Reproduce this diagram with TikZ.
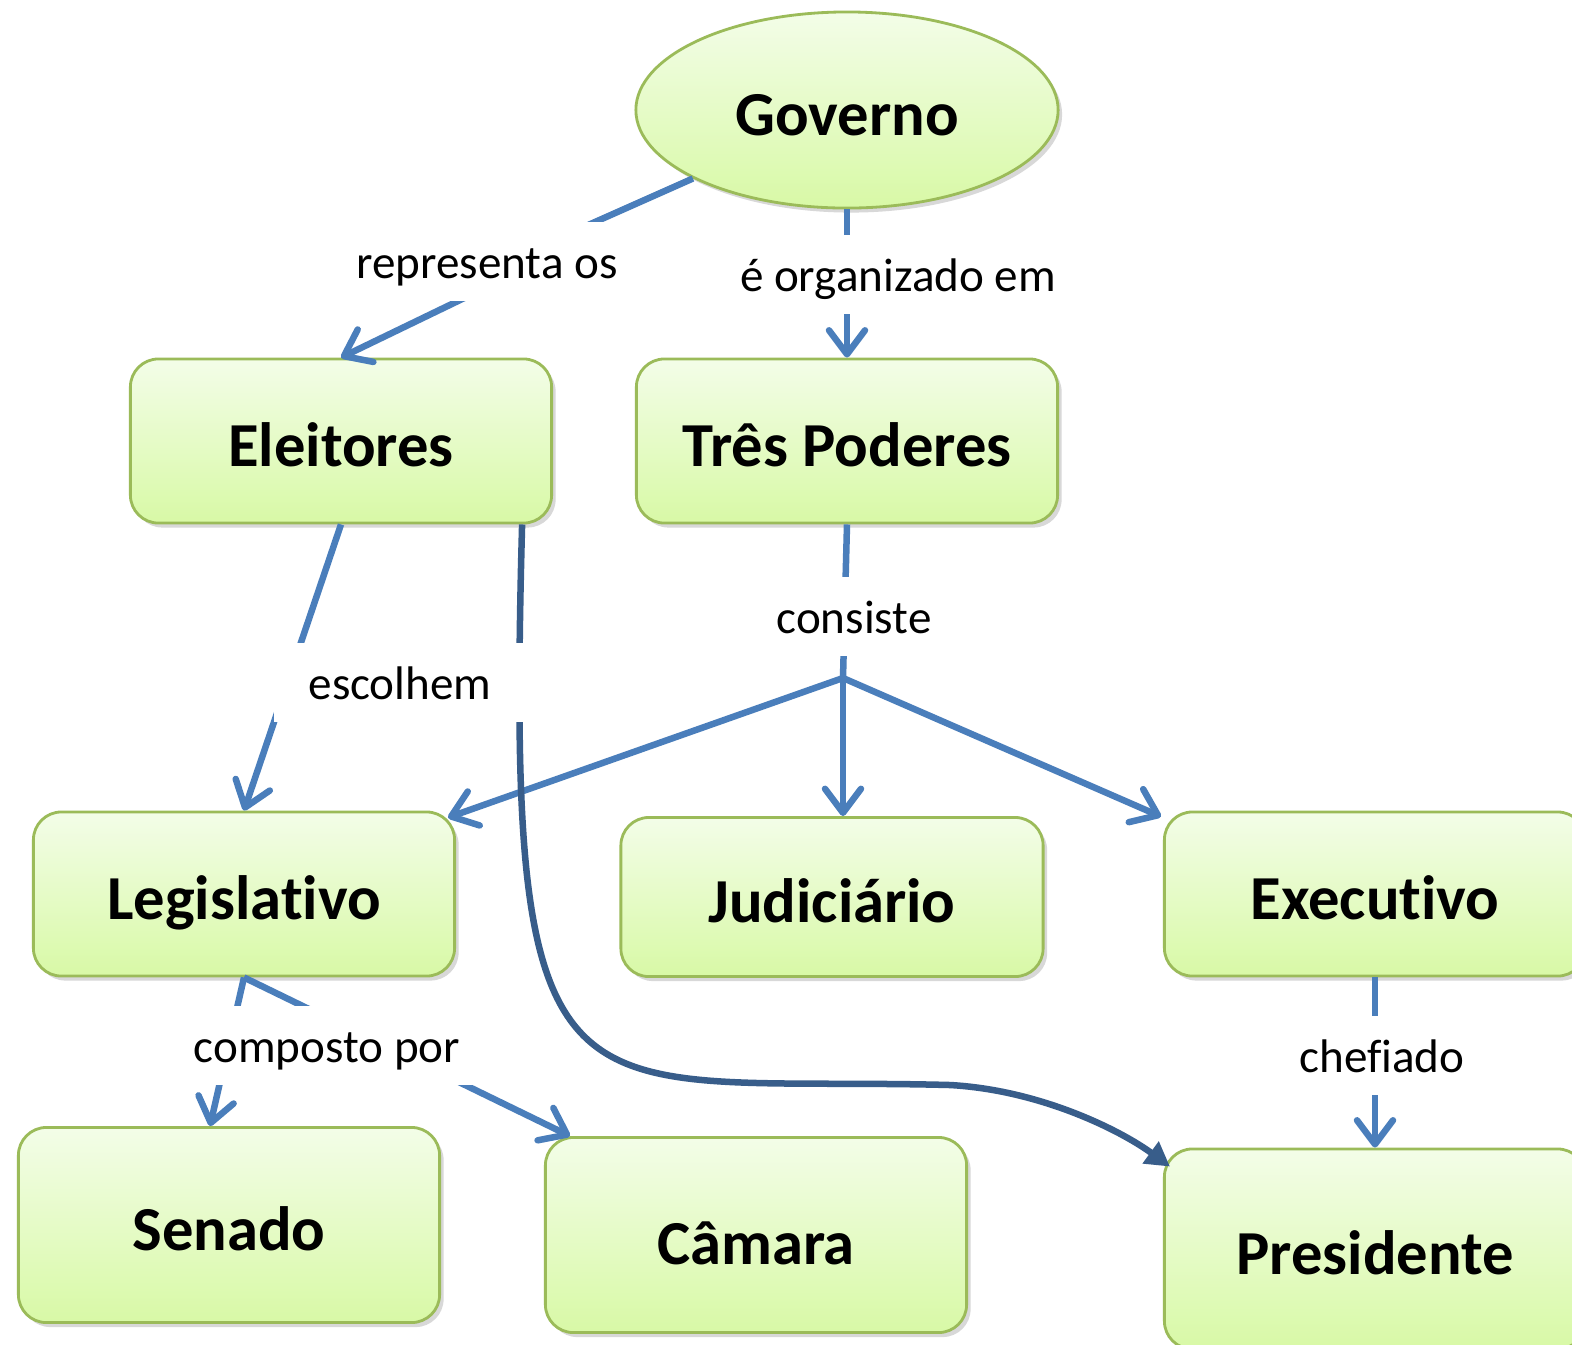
\documentclass[tikz,border=0pt]{standalone}
\usepackage{fontspec}
\setmainfont{Carlito}[Ligatures=NoCommon]
\usetikzlibrary{arrows.meta,shapes.geometric,shadows}
\definecolor{conblue}{RGB}{74,126,187}
\definecolor{darkblue}{RGB}{56,93,138}
\definecolor{topg}{RGB}{243,253,232}
\definecolor{botg}{RGB}{216,249,166}
\definecolor{bordg}{RGB}{155,187,89}
\tikzset{
  conceptbase/.style={draw=bordg, line width=0.8pt, top color=topg, bottom color=botg,
    inner sep=0pt, text height=0.5cm, text depth=0pt, font=\fontsize{17.8}{20}\selectfont\bfseries,
    drop shadow={shadow xshift=0.04cm, shadow yshift=-0.045cm, opacity=0.28, fill=black!55}},
  concept/.style={conceptbase, rectangle, rounded corners=0.28cm, minimum width=4.21cm, minimum height=1.64cm},
  oval/.style={conceptbase, ellipse, minimum width=4.22cm, minimum height=1.96cm},
  linkphrase/.style={fill=white, inner xsep=0.35cm, inner ysep=0.2cm, text height=0.36cm, text depth=0.03cm,
    font=\fontsize{13.4}{16}\selectfont, anchor=base},
  conn/.style={draw=conblue, line width=0.065cm},
  arr/.style={conn, -{Straight Barb[round, length=0.24cm, width=0.36cm]}},
  darr/.style={draw=darkblue, line width=0.065cm, -{Triangle[length=0.24cm, width=0.26cm]}}
}
\begin{document}
\begin{tikzpicture}[x=0.01cm, y=-0.01cm]
\clip (0,0) rectangle (1572,1344);
\fill[white] (0,0) rectangle (1572,1344);

% concepts
\node[oval] (gov) at (847,110) {Governo};
\node[concept] (elei) at (341,441) {Eleitores};
\node[concept] (tp) at (847,441) {Três Poderes};
\node[concept] (leg) at (244,894) {Legislativo};
\node[concept, minimum width=4.22cm, minimum height=1.59cm] (jud) at (832,897) {Judiciário};
\node[concept] (exe) at (1375,894) {Executivo};
\node[concept, minimum height=1.95cm] (sen) at (229,1225) {Senado};
\node[concept, minimum height=1.95cm, text height=0.58cm] (cam) at (756,1235) {Câmara};
\node[concept, minimum height=2.0cm] (pres) at (1375,1249) {Presidente};

% anchor points of linking phrases
\coordinate (repIn) at (487,270);
\coordinate (repOut) at (487,287);
\coordinate (cs) at (843,678);

% connectors
\draw[conn] (gov) -- (repIn);
\draw[arr] (repOut) -- (elei.north);
\draw[arr] (gov.south) -- (tp.north);
\draw[arr] (elei.south) -- (leg.north);
\draw[conn] (tp.south) -- (cs);
\draw[arr] (cs) -- (cs |- jud.north);
\draw[arr] (cs) -- ([shift={(-8,7)}]leg.north east);
\draw[arr] (cs) -- ([shift={(-2,6)}]exe.north west);
\draw[arr] (leg.south) -- ([xshift=-0.19cm]sen.north);
\draw[arr] (leg.south) -- ([xshift=0.26cm]cam.north west);
\draw[arr] (exe.south) -- (pres.north);
\draw[darr] ([xshift=1.81cm]elei.south) .. controls (505,1150) and (560,1075) .. (950,1085)
  .. controls (1040,1090) and (1120,1130) .. ([shift={(7,19)}]pres.north west);

% linking phrases
\node[linkphrase] (rep) at (487,278) {representa os};
\node[linkphrase] (org) at (898,291) {é organizado em};
\node[linkphrase] (cons) at (854,633) {consiste};
\node[linkphrase] (esc) at (400,699) {escolhem};
\node[linkphrase] (comp) at (327,1062) {composto por};
\node[linkphrase] (chef) at (1382,1072) {chefiado};
\end{tikzpicture}
\end{document}
